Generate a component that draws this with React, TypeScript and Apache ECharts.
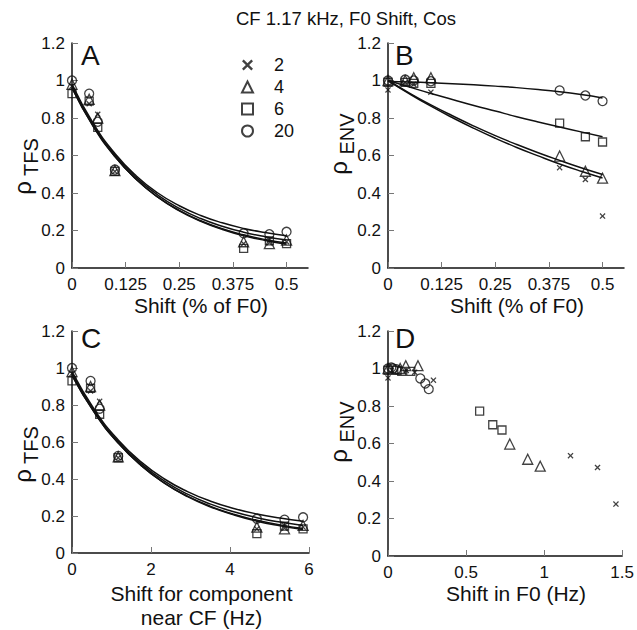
import React, { useEffect, useRef } from 'react';
import * as echarts from 'echarts';

const FONT = '"Liberation Sans", Arial, Helvetica, sans-serif';
const INK = '#111';

// legend / series names (number of components)
const seriesNames = ['2', '4', '6', '20'];

// x values
const shiftPct = [0, 0.04, 0.06, 0.1, 0.4, 0.46, 0.5];
const shiftNearCF = [0, 0.47, 0.7, 1.17, 4.68, 5.38, 5.85];
const shiftF0_2 = [0, 0.117, 0.171, 0.291, 1.169, 1.342, 1.46];
const shiftF0_4 = [0, 0.078, 0.114, 0.192, 0.78, 0.895, 0.975];
const shiftF0_6 = [0, 0.058, 0.088, 0.146, 0.587, 0.671, 0.73];
const shiftF0_20 = [0, 0.021, 0.032, 0.053, 0.207, 0.239, 0.261];

// rho TFS values
const tfs2 = [0.97, 0.876, 0.82, 0.515, 0.13, 0.135, 0.14];
const tfs4 = [0.98, 0.9, 0.8, 0.52, 0.14, 0.13, 0.149];
const tfs6 = [0.93, 0.89, 0.75, 0.515, 0.105, 0.145, 0.13];
const tfs20 = [1.0, 0.93, 0.78, 0.525, 0.185, 0.18, 0.193];

// rho ENV values
const env2 = [0.95, 0.99, 0.98, 0.938, 0.535, 0.472, 0.277];
const env4 = [1.0, 1.0, 1.015, 1.015, 0.597, 0.516, 0.479];
const env6 = [0.99, 0.99, 0.985, 0.985, 0.773, 0.7, 0.672];
const env20 = [1.0, 1.005, 1.0, 0.996, 0.947, 0.92, 0.89];

// fitted curves
const fitPct = [0, 0.05, 0.1, 0.15, 0.2, 0.25, 0.3, 0.35, 0.4, 0.45, 0.5];
const fitHz = [0, 0.585, 1.17, 1.755, 2.34, 2.925, 3.51, 4.095, 4.68, 5.265, 5.85];
const tfsFit2 = [0.96, 0.753, 0.594, 0.472, 0.378, 0.307, 0.252, 0.209, 0.177, 0.152, 0.133];
const tfsFit4 = [0.96, 0.754, 0.595, 0.472, 0.378, 0.305, 0.249, 0.206, 0.172, 0.147, 0.127];
const tfsFit6 = [0.97, 0.762, 0.603, 0.482, 0.389, 0.318, 0.264, 0.223, 0.191, 0.167, 0.149];
const tfsFit20 = [0.98, 0.77, 0.611, 0.491, 0.4, 0.332, 0.28, 0.241, 0.211, 0.189, 0.172];
const envFit2 = [1.0, 0.929, 0.863, 0.802, 0.745, 0.692, 0.643, 0.598, 0.555, 0.516, 0.48];
const envFit4 = [1.0, 0.933, 0.87, 0.812, 0.757, 0.706, 0.659, 0.615, 0.574, 0.535, 0.499];
const envFit6 = [1.0, 0.965, 0.931, 0.899, 0.867, 0.837, 0.807, 0.779, 0.752, 0.726, 0.7];
const envFit20 = [0.995, 0.992, 0.988, 0.983, 0.977, 0.97, 0.962, 0.952, 0.94, 0.925, 0.907];

// axis ticks
const pctTicks = [0, 0.125, 0.25, 0.375, 0.5];
const hzTicks = [0, 2, 4, 6];
const f0Ticks = [0, 0.5, 1, 1.5];

const crossPath = 'path://M0,1.5L1.5,0L5,3.5L8.5,0L10,1.5L6.5,5L10,8.5L8.5,10L5,6.5L1.5,10L0,8.5L3.5,5Z';
const symbols = [crossPath, 'triangle', 'rect', 'circle'];
const symbolSizes = [6, 10, 8, 9];

const zip = (xs: number[], ys: number[]) => xs.map((x, k) => [x, ys[k]]);

function itemStyle(i: number) {
  return i === 0
    ? { color: INK, borderWidth: 0 }
    : { color: 'rgba(0,0,0,0)', borderColor: INK, borderWidth: 1.3 };
}

function scatter(i: number, gridIdx: number, xs: number[], ys: number[]) {
  return {
    type: 'scatter',
    name: seriesNames[i],
    xAxisIndex: gridIdx,
    yAxisIndex: gridIdx,
    symbol: symbols[i],
    symbolSize: symbolSizes[i],
    itemStyle: itemStyle(i),
    data: zip(xs, ys),
    emphasis: { disabled: true },
    z: 3,
  };
}

function fitLine(gridIdx: number, xs: number[], ys: number[], id: string) {
  return {
    type: 'line',
    id,
    xAxisIndex: gridIdx,
    yAxisIndex: gridIdx,
    data: zip(xs, ys),
    showSymbol: false,
    smooth: true,
    silent: true,
    lineStyle: { color: INK, width: 1.5 },
    emphasis: { disabled: true },
    z: 2,
  };
}

function xAxis(gridIndex: number, max: number, ticks: number[], name: string, nameGap: number) {
  return {
    type: 'value',
    gridIndex,
    min: 0,
    max,
    name,
    nameLocation: 'middle',
    nameGap,
    nameTextStyle: { fontSize: 21, color: INK, fontFamily: FONT, lineHeight: 24, padding: [0, 0, 0, 22] },
    axisLine: { show: true, onZero: false, lineStyle: { color: INK, width: 1.5 } },
    axisTick: { show: true, inside: true, length: 6, lineStyle: { color: '#777', width: 1 }, customValues: ticks },
    axisLabel: { fontSize: 17, color: INK, fontFamily: FONT, margin: 8, customValues: ticks, formatter: (v: number) => String(v) },
    splitLine: { show: false },
  };
}

function yAxis(gridIndex: number) {
  return {
    type: 'value',
    gridIndex,
    min: 0,
    max: 1.2,
    interval: 0.2,
    axisLine: { show: true, onZero: false, lineStyle: { color: INK, width: 1.5 } },
    axisTick: { show: true, inside: true, length: 6, lineStyle: { color: '#777', width: 1 } },
    axisLabel: { fontSize: 17, color: INK, fontFamily: FONT, margin: 7 },
    splitLine: { show: false },
  };
}

function yName(x: number, yRho: number, sub: string, ySub: number) {
  return [
    { type: 'text', x, y: yRho, rotation: Math.PI / 2, style: { text: 'ρ', fontSize: 24, fontFamily: FONT, fill: INK, align: 'center', verticalAlign: 'middle' } },
    { type: 'text', x: x + 9, y: ySub, rotation: Math.PI / 2, style: { text: sub, fontSize: 20, fontFamily: FONT, fill: INK, align: 'center', verticalAlign: 'middle' } },
  ];
}

function letter(x: number, y: number, t: string) {
  return { type: 'text', x, y, style: { text: t, fontSize: 28, fontFamily: FONT, fill: INK, align: 'left', verticalAlign: 'middle' } };
}

export default function App() {
  const ref = useRef<HTMLDivElement>(null);
  useEffect(() => {
    if (!ref.current) return;
    const chart = echarts.init(ref.current, undefined, { renderer: 'svg' });
    const tfs = [tfs2, tfs4, tfs6, tfs20];
    const env = [env2, env4, env6, env20];
    const f0 = [shiftF0_2, shiftF0_4, shiftF0_6, shiftF0_20];
    const tfsFits = [tfsFit2, tfsFit4, tfsFit6, tfsFit20];
    const envFits = [envFit2, envFit4, envFit6, envFit20];
    const series: any[] = [];
    for (let i = 0; i < 4; i++) series.push(scatter(i, 0, shiftPct, tfs[i]));
    for (let i = 0; i < 4; i++) series.push(scatter(i, 1, shiftPct, env[i]));
    for (let i = 0; i < 4; i++) series.push(scatter(i, 2, shiftNearCF, tfs[i]));
    for (let i = 0; i < 4; i++) series.push(scatter(i, 3, f0[i], env[i]));
    for (let i = 0; i < 4; i++) {
      series.push(fitLine(0, fitPct, tfsFits[i], 'fa' + i));
      series.push(fitLine(1, fitPct, envFits[i], 'fb' + i));
      series.push(fitLine(2, fitHz, tfsFits[i], 'fc' + i));
    }
    chart.setOption({
      animation: false,
      backgroundColor: '#fff',
      textStyle: { fontFamily: FONT },
      grid: [
        { left: 72, top: 43, width: 236, height: 225 },
        { left: 388, top: 43, width: 236, height: 225 },
        { left: 72, top: 331, width: 237, height: 225 },
        { left: 388, top: 331, width: 237, height: 225 },
      ],
      xAxis: [
        xAxis(0, 0.55, pctTicks, 'Shift (% of F0)', 17),
        xAxis(1, 0.55, pctTicks, 'Shift (% of F0)', 17),
        xAxis(2, 6, hzTicks, 'Shift for component\nnear CF (Hz)', 28),
        xAxis(3, 1.5, f0Ticks, 'Shift in F0 (Hz)', 24),
      ],
      yAxis: [yAxis(0), yAxis(1), yAxis(2), yAxis(3)],
      legend: {
        data: seriesNames,
        orient: 'vertical',
        left: 236,
        top: 51,
        itemWidth: 11,
        itemHeight: 11,
        itemGap: 4,
        selectedMode: false,
        textStyle: { fontSize: 18, color: INK, fontFamily: FONT, padding: [0, 0, 0, 16] },
      },
      graphic: [
        { type: 'text', x: 346, y: 18, style: { text: 'CF 1.17 kHz, F0 Shift, Cos', fontSize: 18.5, fontFamily: FONT, fill: INK, align: 'center', verticalAlign: 'middle' } },
        letter(81, 55, 'A'),
        letter(395, 55, 'B'),
        letter(81, 338, 'C'),
        letter(395, 338, 'D'),
        ...yName(22, 188, 'TFS', 157),
        ...yName(338, 168, 'ENV', 134),
        ...yName(22, 476, 'TFS', 445),
        ...yName(338, 456, 'ENV', 422),
      ],
      series,
    });
    return () => chart.dispose();
  }, []);
  return <div ref={ref} style={{ position: 'fixed', left: 0, top: 0, width: 637, height: 630, background: '#fff' }} />;
}
